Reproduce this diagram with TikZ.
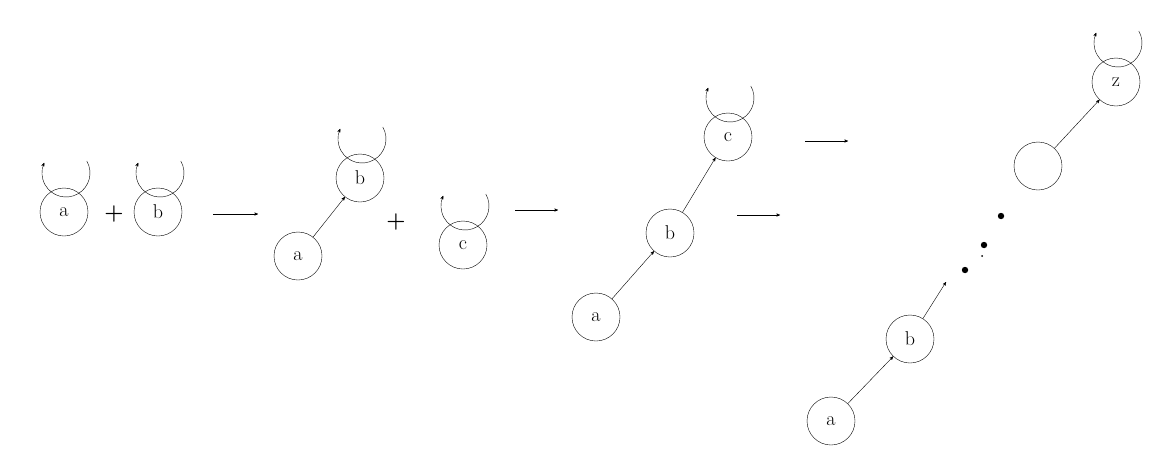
\documentclass[tikz,border=0pt]{standalone}
\usetikzlibrary{arrows}
\begin{document}
\begin{tikzpicture}[x=1pt,y=-1pt,
  nd/.style={circle,draw,minimum size=48pt,inner sep=0pt,font=\fontsize{20}{24}\selectfont},
  ar/.style={->,>=stealth',shorten >=0pt},
  op/.style={font=\fontsize{22}{24}\selectfont\bfseries}]
\useasboundingbox (0,0) rectangle (1159,464);
\newcommand{\lp}[1]{\draw[->,>=stealth'] ($(#1)+(22,-12)$) arc[start angle=-30,end angle=200,radius=24] ;}
\node[nd] (a1) at (64,212) {a};
\node[nd] (b1) at (158,212) {b};
\node[op] (p1) at (114,214) {+};
\coordinate (s1) at (213,214); \coordinate (e1) at (258,214);
\draw[ar] (s1) -- (e1);
\node[nd] (a2) at (298,256) {a};
\node[nd] (b2) at (360,178) {b};
\draw[ar] (a2) -- (b2);
\node[op] (p2) at (396,222) {+};
\node[nd] (c2) at (463,245) {c};
\coordinate (s2) at (515,210); \coordinate (e2) at (558,210);
\draw[ar] (s2) -- (e2);
\node[nd] (a3) at (596,317) {a};
\node[nd] (b3) at (670,233) {b};
\node[nd] (c3) at (728,137) {c};
\draw[ar] (a3) -- (b3);
\draw[ar] (b3) -- (c3);
\coordinate (s3) at (805,141); \coordinate (e3) at (848,141);
\draw[ar] (s3) -- (e3);
\coordinate (s4) at (737,215); \coordinate (e4) at (780,215);
\draw[ar] (s4) -- (e4);
\node[nd] (a4) at (831,421) {a};
\node[nd] (b4) at (910,339) {b};
\node[nd] (y4) at (1038,166) {};
\node[nd] (z4) at (1116,82) {z};
\coordinate (d0) at (946,282);
\draw[ar] (a4) -- (b4);
\draw[ar] (b4) -- (d0);
\draw[ar] (y4) -- (z4);
\fill (965,270) circle (3.2) (984,245) circle (3.2) (1001,216) circle (3.2) (982,256) circle (1);
\foreach \n in {a1,b1,b2,c2,c3,z4}{
  \draw[->,>=stealth'] ([shift={(2,-39)}]\n.center) ++(-30:24) arc[start angle=-30,end angle=205,radius=24];
}
\end{tikzpicture}
\end{document}
